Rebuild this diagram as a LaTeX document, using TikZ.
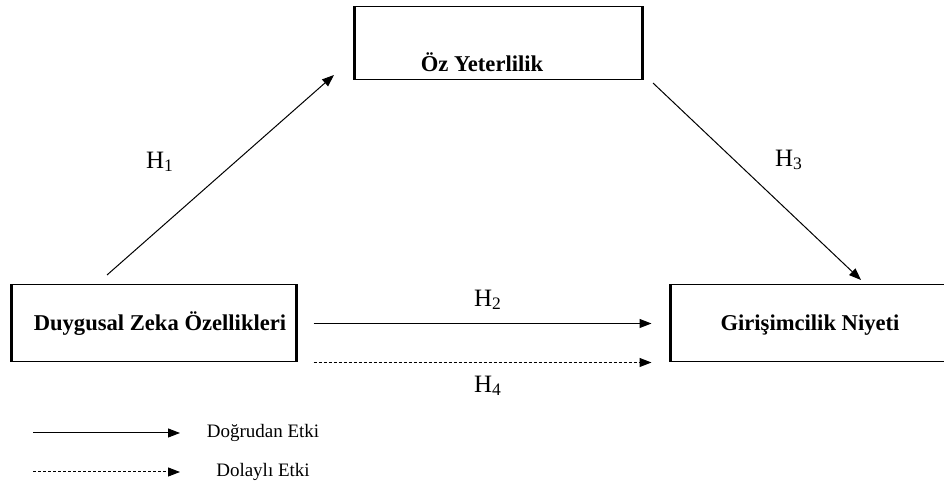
\documentclass[tikz,border=0pt]{standalone}
\usepackage{fontspec}
\setmainfont{Liberation Serif}
\usetikzlibrary{positioning, arrows.meta}
\tikzset{
  blk/.style  = {draw, rectangle, line width=0.5pt, inner sep=0pt},
  side/.style = {line width=1.6pt},
  ttl/.style  = {font=\fontsize{11.3}{13}\selectfont\bfseries, inner sep=0pt},
  hyp/.style  = {font=\fontsize{12.5}{14}\selectfont, inner sep=1pt},
  key/.style  = {font=\fontsize{9.5}{11}\selectfont, inner sep=1pt},
  ar/.style   = {-{Triangle[length=6pt, width=4.5pt]}, line width=0.5pt},
  dar/.style  = {-{Triangle[length=6pt, width=4.5pt]}, line width=0.5pt,
                 dash pattern=on 1.5pt off 1pt},
}

\begin{document}
\begin{tikzpicture}[x=0.5pt, y=-0.5pt]
  \useasboundingbox (0,0) rectangle (944,486);

  % ---- boxes ----
  \node[blk, minimum width=143.5pt, minimum height=36.5pt] (oz) at (498.5,43.5) {};
  \node[ttl, anchor=base] (ozt) at (482,72) {Öz Yeterlilik};
  \node[blk, minimum width=142pt, minimum height=38.5pt] (dz) at (154,323.5) {};
  \node[ttl, anchor=base] (dzt) at (160,331) {Duygusal Zeka Özellikleri};
  \node[blk, minimum width=144.5pt, minimum height=38.5pt] (gn) at (815.5,323.5) {};
  \node[ttl, anchor=base] (gnt) at (810,331) {Girişimcilik Niyeti};
  \foreach \b in {oz,dz,gn}
    \draw[side] (\b.north west) -- (\b.south west) (\b.north east) -- (\b.south east);

  % ---- paths ----
  \coordinate (h1s) at (107,275);
  \coordinate (h1e) at (334,75);
  \coordinate (h3s) at (653,83);
  \coordinate (h3e) at (861,280);
  \draw[ar] (h1s) -- (h1e);
  \draw[ar] (h3s) -- (h3e);
  \draw[ar, shorten <=8.5pt, shorten >=9.5pt] (dz.east) -- (gn.west);
  \draw[dar, shorten <=8.5pt, shorten >=9.5pt] (dz.south east) -- (gn.south west);
  \node[hyp] (h1) at (160,162) {H\textsubscript{1}};
  \node[hyp] (h3) at (789,160) {H\textsubscript{3}};
  \node[hyp] (h2) at (488,300) {H\textsubscript{2}};
  \node[hyp] (h4) at (488,386) {H\textsubscript{4}};

  % ---- legend ----
  \coordinate (k1a) at (33,433);  \coordinate (k1b) at (180,433);
  \coordinate (k2a) at (33,472);  \coordinate (k2b) at (180,472);
  \draw[ar] (k1a) -- (k1b);
  \draw[dar] (k2a) -- (k2b);
  \node[key] (k1) at (263,433) {Doğrudan Etki};
  \node[key] (k2) at (263,472) {Dolaylı Etki};
\end{tikzpicture}
\end{document}
